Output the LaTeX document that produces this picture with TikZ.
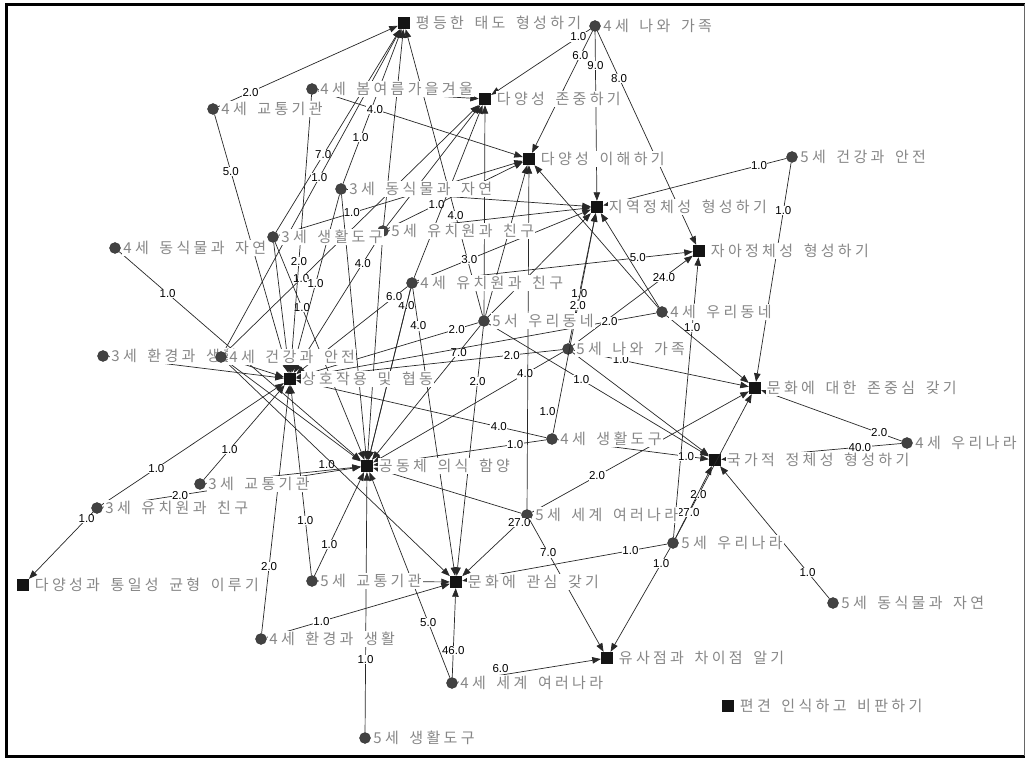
\documentclass[tikz,border=0pt]{standalone}
\usepackage{fontspec}
\setmainfont{Liberation Sans}
\newfontfamily\kr[LetterSpace=22,WordSpace=1.6]{Noto Sans CJK KR}
\usetikzlibrary{arrows.meta}
\definecolor{lab}{RGB}{135,135,135}
\definecolor{mk}{RGB}{66,66,66}
\definecolor{ln}{RGB}{40,40,40}
\tikzset{
 circ/.style={circle,fill=mk,draw=mk!80!black,minimum size=11pt,inner sep=0pt},
 sq/.style={rectangle,fill=black!92,minimum size=12pt,inner sep=0pt},
 lbl/.style={anchor=west,font=\kr\fontsize{15}{15}\selectfont,text=lab,fill=white,inner sep=1pt,xshift=1.5pt},
 e/.style={draw=ln,line width=0.7pt,-{Triangle[length=8.5pt,width=6.5pt]}},
 w/.style={font=\fontsize{11.5}{12}\selectfont,text=black,fill=white,inner sep=0.5pt},
}
\begin{document}
\begin{tikzpicture}[x=1pt,y=-1pt]
\useasboundingbox (0,0) rectangle (1026,759);
\fill[white] (0,0) rectangle (1026,759);
\draw[line width=3pt] (6.5,757) -- (6.5,4.5) -- (1025,4.5);
\draw[line width=3pt] (5,756) -- (1025,756);
\draw[line width=1pt,black!60] (1024.5,4.5) -- (1024.5,756);
% goal squares
\node[sq] (pd) at (404,23) {};
\node[sq] (dz) at (485,99) {};
\node[sq] (di) at (529,159) {};
\node[sq] (jy) at (597,207) {};
\node[sq] (ja) at (699,251) {};
\node[sq] (sh) at (290,379) {};
\node[sq] (jj) at (755,388) {};
\node[sq] (gd) at (367,466) {};
\node[sq] (gg) at (715,460) {};
\node[sq] (dt) at (23,585) {};
\node[sq] (mg) at (456,582) {};
\node[sq] (ys) at (607,658) {};
\node[sq] (pg) at (728,706) {};
% unit circles
\node[circ] (a4fam) at (595,26) {};
\node[circ] (a4sea) at (312,89) {};
\node[circ] (a4tr) at (213,109) {};
\node[circ] (a5hs) at (792,157) {};
\node[circ] (a3ani) at (341,189) {};
\node[circ] (a5kf) at (383,231) {};
\node[circ] (a3tool) at (273,237) {};
\node[circ] (a4ani) at (115,248) {};
\node[circ] (a4kf) at (412,283) {};
\node[circ] (a5nb) at (484,321) {};
\node[circ] (a4nb) at (662,312) {};
\node[circ] (a5fam) at (568,349) {};
\node[circ] (a3env) at (103,356) {};
\node[circ] (a4hs) at (221,357) {};
\node[circ] (a4tool) at (552,439) {};
\node[circ] (a3tr) at (200,484) {};
\node[circ] (a4nat) at (907,443) {};
\node[circ] (a3kf) at (97,508) {};
\node[circ] (a5wld) at (527,515) {};
\node[circ] (a5nat) at (673,543) {};
\node[circ] (a5tr) at (312,581) {};
\node[circ] (a4env) at (261,639) {};
\node[circ] (a4wld) at (452,683) {};
\node[circ] (a5ani) at (833,603) {};
\node[circ] (a5tool) at (365,738) {};
% labelled edges
\foreach \s/\t/\l/\p in {
 a4tr/pd/2.0/.18, a3tool/pd/7.0/.38, a4hs/pd/1.0/.54, a3ani/pd/1.0/.3, a5nb/pd/4.0/.35,
 a4fam/dz/1.0/.12, a4hs/dz/1.0/.3,
 a4fam/di/6.0/.2, a4sea/di/4.0/.28, a5kf/di/1.0/.36, a3tool/di/1.0/.3,
 a4fam/jy/9.0/.2, a5hs/jy/1.0/.15, a4kf/jy/3.0/.3, a5fam/jy/1.0/.38,
 a4fam/ja/8.0/.22, a5nat/ja/1.0/.75, a4kf/ja/5.0/.8, a5fam/ja/24.0/.76,
 a5hs/jj/1.0/.22, a4nat/jj/2.0/.16, a5fam/jj/1.0/.27, a5wld/jj/2.0/.3, a5nat/jj/2.0/.3,
 a4nat/gg/40.0/.23, a5ani/gg/1.0/.2, a5nat/gg/27.0/.35, a4tool/gg/1.0/.85, a5nb/gg/1.0/.42,
 a3kf/gd/2.0/.3, a3tool/gd/1.0/.3, a5nb/gd/7.0/.2, a5fam/gd/4.0/.2,
 a4tool/gd/1.0/.18, a5tr/gd/1.0/.3, a5tool/gd/1.0/.28, a4wld/gd/5.0/.27, a4ani/gd/1.0/.2,
 a4kf/gd/4.0/.1,
 a4tr/sh/5.0/.22, a3kf/sh/1.0/.3, a3tr/sh/1.0/.32, a5tr/sh/1.0/.29, a4env/sh/2.0/.27,
 a4sea/sh/2.0/.6, a3ani/sh/1.0/.5, a5kf/sh/4.0/.2, a4kf/sh/6.0/.12, a5nb/sh/2.0/.12,
 a5fam/sh/2.0/.19, a4tool/sh/4.0/.19, a4nb/sh/2.0/.13,
 a4env/mg/1.0/.3, a4wld/mg/46.0/.3, a5wld/mg/27.0/.06, a5nat/mg/1.0/.18, a5nb/mg/2.0/.22,
 a4kf/mg/4.0/.13,
 a5wld/ys/7.0/.25, a5nat/ys/1.0/.15,
 a3kf/dt/1.0/.1}
 {\draw[e] (\s) -- node[w,pos=\p]{\l} (\t);}
\draw[e] (a4wld) -- node[w,pos=.3,above=2pt]{6.0} (ys);
\draw[e] (a4tool) -- node[w,pos=.1,left=1pt]{1.0} node[w,pos=.58]{2.0} (jy);
\draw[e] (a3tr) -- node[w,pos=.78,above=1pt]{1.0} (gd);
% unlabelled edges
\foreach \s/\t in {a5kf/pd, a5nb/dz, a4kf/dz, a5kf/dz, a4sea/dz,
 a5wld/di, a4nb/di, a4nb/jy, a5nb/di, a3ani/jy, a5kf/jy, a5nb/jy, a4nb/jj, a5fam/gg,
 a4hs/gd, a4kf/gd, a3ani/gd, a5kf/gd, a5wld/gd, a3env/sh, a4hs/sh, a3tool/sh,
 a5tr/mg, a4hs/mg}
 {\draw[e] (\s) -- (\t);}
% node labels
\node[lbl,xshift=3pt] (pdL) at (pd.east) {평등한 태도 형성하기};
\node[lbl,xshift=3pt] (dzL) at (dz.east) {다양성 존중하기};
\node[lbl,xshift=3pt] (diL) at (di.east) {다양성 이해하기};
\node[lbl,xshift=3pt] (jyL) at (jy.east) {지역정체성 형성하기};
\node[lbl,xshift=3pt] (jaL) at (ja.east) {자아정체성 형성하기};
\node[lbl,xshift=3pt] (shL) at (sh.east) {상호작용 및 협동};
\node[lbl,xshift=3pt] (jjL) at (jj.east) {문화에 대한 존중심 갖기};
\node[lbl,xshift=3pt] (gdL) at (gd.east) {공동체 의식 함양};
\node[lbl,xshift=3pt] (ggL) at (gg.east) {국가적 정체성 형성하기};
\node[lbl,xshift=3pt] (dtL) at (dt.east) {다양성과 통일성 균형 이루기};
\node[lbl,xshift=3pt] (mgL) at (mg.east) {문화에 관심 갖기};
\node[lbl,xshift=3pt] (ysL) at (ys.east) {유사점과 차이점 알기};
\node[lbl,xshift=3pt] (pgL) at (pg.east) {편견 인식하고 비판하기};
\node[lbl] (a4famL) at (a4fam.east) {4세 나와 가족};
\node[lbl] (a4seaL) at (a4sea.east) {4세 봄여름가을겨울};
\node[lbl] (a4trL) at (a4tr.east) {4세 교통기관};
\node[lbl] (a5hsL) at (a5hs.east) {5세 건강과 안전};
\node[lbl] (a3aniL) at (a3ani.east) {3세 동식물과 자연};
\node[lbl] (a5kfL) at (a5kf.east) {5세 유치원과 친구};
\node[lbl] (a3toolL) at (a3tool.east) {3세 생활도구};
\node[lbl] (a4aniL) at (a4ani.east) {4세 동식물과 자연};
\node[lbl] (a4kfL) at (a4kf.east) {4세 유치원과 친구};
\node[lbl] (a5nbL) at (a5nb.east) {5서 우리동네};
\node[lbl] (a4nbL) at (a4nb.east) {4세 우리동네};
\node[lbl] (a5famL) at (a5fam.east) {5세 나와 가족};
\node[lbl] (a3envL) at (a3env.east) {3세 환경과 생활};
\node[circ] at (a4hs) {};
\node[lbl] (a4hsL) at (a4hs.east) {4세 건강과 안전};
\node[lbl] (a4toolL) at (a4tool.east) {4세 생활도구};
\node[lbl] (a3trL) at (a3tr.east) {3세 교통기관};
\node[lbl] (a4natL) at (a4nat.east) {4세 우리나라};
\node[lbl] (a3kfL) at (a3kf.east) {3세 유치원과 친구};
\node[lbl] (a5wldL) at (a5wld.east) {5세 세계 여러나라};
\node[lbl] (a5natL) at (a5nat.east) {5세 우리나라};
\node[lbl] (a5trL) at (a5tr.east) {5세 교통기관};
\node[lbl] (a4envL) at (a4env.east) {4세 환경과 생활};
\node[lbl] (a4wldL) at (a4wld.east) {4세 세계 여러나라};
\node[lbl] (a5aniL) at (a5ani.east) {5세 동식물과 자연};
\node[lbl] (a5toolL) at (a5tool.east) {5세 생활도구};
\end{tikzpicture}
\end{document}
